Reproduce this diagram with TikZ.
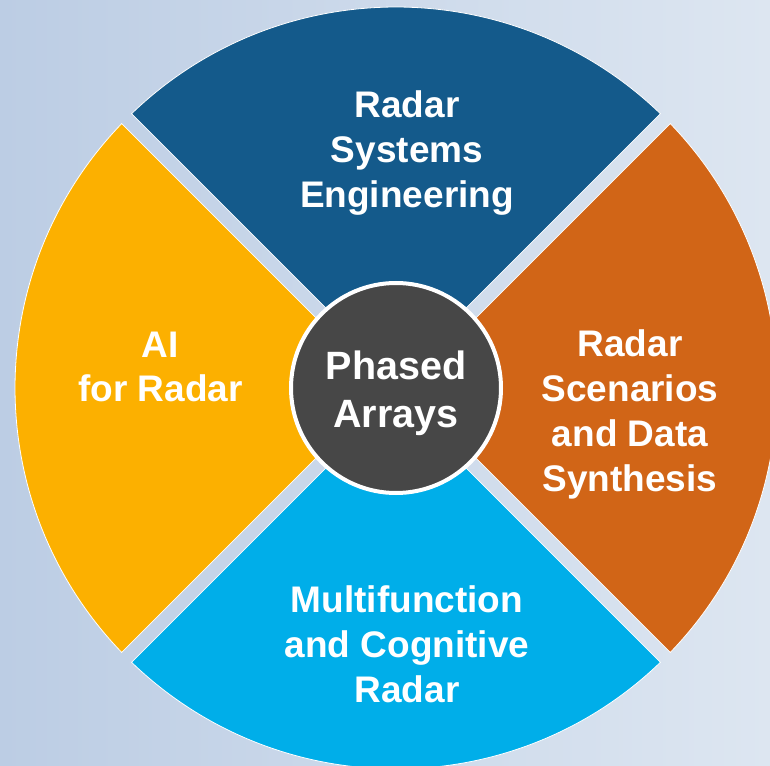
\documentclass[tikz,border=0pt]{standalone}
\usepackage{fontspec}
\setmainfont{Liberation Sans}
\definecolor{bgleft}{RGB}{188,205,228}
\definecolor{bgright}{RGB}{221,230,241}
\definecolor{secblue}{RGB}{20,90,139}
\definecolor{secyellow}{RGB}{252,176,0}
\definecolor{secorange}{RGB}{209,101,23}
\definecolor{seccyan}{RGB}{0,174,233}
\definecolor{hubgray}{RGB}{71,71,71}
\begin{document}
\begin{tikzpicture}[x=1pt,y=1pt,
  sector/.style={draw=white,line width=0.8pt},
  sectorlabel/.style={text=white,align=center,anchor=base,inner sep=0pt,
    font=\bfseries\fontsize{37}{45}\selectfont},
  hublabel/.style={text=white,align=center,anchor=base,inner sep=0pt,
    font=\bfseries\fontsize{39.5}{48}\selectfont},
  hubdisc/.style={circle,fill=hubgray,draw=white,line width=4pt,
    minimum size=210pt,inner sep=0pt}]
% canvas and gradient background
\useasboundingbox (-396,-377) rectangle (374,388);
\clip (-396,-377) rectangle (374,388);
\shade[left color=bgleft,right color=bgright] (-396,-377) rectangle (374,388);
% ring radius, apex offset and angular trim for the 14pt gaps
\def\R{381}
\def\ap{9.9}
\def\tr{1.05}
% four quadrant sectors
\fill[sector,fill=secblue]   (90:\ap)  -- (45+\tr:\R)  arc[start angle=45+\tr,  end angle=135-\tr, radius=\R] -- cycle;
\fill[sector,fill=secyellow] (180:\ap) -- (135+\tr:\R) arc[start angle=135+\tr, end angle=225-\tr, radius=\R] -- cycle;
\fill[sector,fill=seccyan]   (270:\ap) -- (225+\tr:\R) arc[start angle=225+\tr, end angle=315-\tr, radius=\R] -- cycle;
\fill[sector,fill=secorange] (0:\ap)   -- (-45+\tr:\R) arc[start angle=-45+\tr, end angle=45-\tr,  radius=\R] -- cycle;
% central hub
\node[hubdisc] (hub) at (0,0) {};
% labels are anchored on the baseline of their last line
\node[hublabel] (hubtext) at (0,-39) {Phased\\Arrays};
\node[sectorlabel] (sys) at (11,180) {Radar\\Systems\\Engineering};
\node[sectorlabel] (scen) at (234,-103) {Radar\\Scenarios\\and Data\\Synthesis};
\node[sectorlabel] (mfr) at (11,-314) {Multifunction\\and Cognitive\\Radar};
\node[sectorlabel] (ai) at (-235.5,-14) {AI\\for Radar};
\end{tikzpicture}
\end{document}
